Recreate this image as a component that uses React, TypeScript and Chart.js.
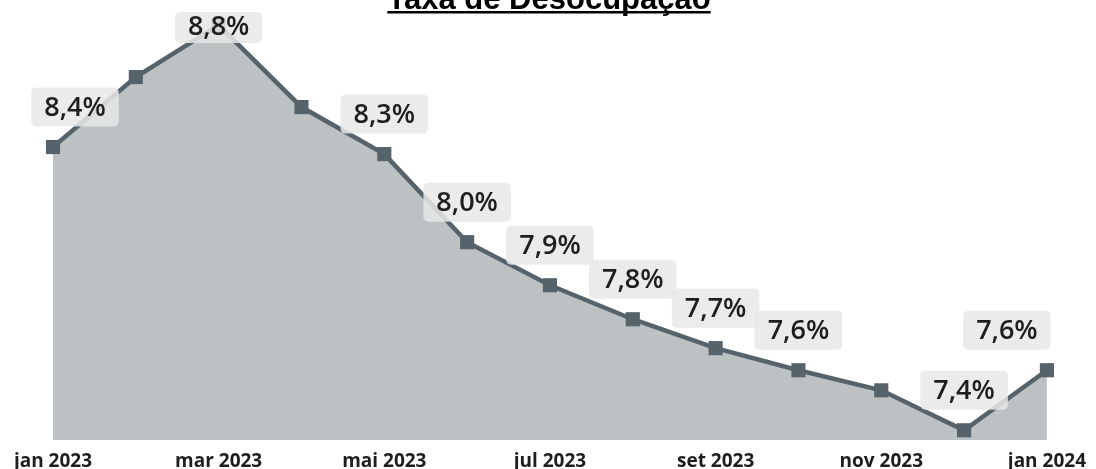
import React, { useEffect, useRef } from "react";
import { Chart, registerables } from "chart.js";

Chart.register(...registerables);

const months = [
  "jan 2023", "fev 2023", "mar 2023", "abr 2023", "mai 2023", "jun 2023", "jul 2023",
  "ago 2023", "set 2023", "out 2023", "nov 2023", "dez 2023", "jan 2024",
];
const rates = [8.4, 8.647, 8.83, 8.541, 8.375, 8.064, 7.912, 7.792, 7.69, 7.612, 7.541, 7.4, 7.612];
const pointLabels: (string | null)[] = [
  "8,4%", null, "8,8%", null, "8,3%", "8,0%", "7,9%", "7,8%", "7,7%", "7,6%", null, "7,4%", "7,6%",
];
const titleText = "Taxa de Desocupação";

const labelPlugin = {
  id: "valueLabels",
  afterDatasetsDraw(chart: any) {
    const ctx = chart.ctx;
    const meta = chart.getDatasetMeta(0);
    ctx.save();
    ctx.font = "600 27px 'Open Sans'";
    ctx.textAlign = "center";
    ctx.textBaseline = "middle";
    meta.data.forEach((pt: any, i: number) => {
      const txt = pointLabels[i];
      if (!txt) return;
      let shift = 0;
      if (i === 0) shift = 22;
      if (i === meta.data.length - 1) shift = -40;
      const cx = pt.x + shift;
      let h = 39;
      let top = pt.y - 40 - h / 2;
      let textY = pt.y - 39;
      if (top < 12) {
        top = 12;
        h = 31;
        textY = 27;
      }
      const w = ctx.measureText(txt).width + 26;
      ctx.fillStyle = "rgba(232,232,232,0.85)";
      ctx.beginPath();
      (ctx as any).roundRect(cx - w / 2, top, w, h, 5);
      ctx.fill();
      ctx.fillStyle = "#1e1e1e";
      ctx.fillText(txt, cx, textY);
    });
    ctx.restore();
  },
};

const titlePlugin = {
  id: "topTitle",
  afterDraw(chart: any) {
    const ctx = chart.ctx;
    ctx.save();
    ctx.font = "bold 31px 'Liberation Sans', Arial";
    ctx.textAlign = "center";
    ctx.textBaseline = "alphabetic";
    ctx.fillStyle = "#000";
    const cx = 549;
    ctx.fillText(titleText, cx, 9);
    const w = ctx.measureText(titleText).width;
    ctx.fillRect(cx - w / 2, 11, w, 2.5);
    ctx.restore();
  },
};

export default function App() {
  const ref = useRef<HTMLCanvasElement>(null);
  useEffect(() => {
    if (!ref.current) return;
    const chart = new Chart(ref.current, {
      type: "line",
      data: {
        labels: months,
        datasets: [
          {
            data: rates,
            borderColor: "#56636b",
            borderWidth: 4.5,
            backgroundColor: "#bcc1c4",
            fill: "start",
            pointStyle: "rect",
            pointRadius: 10,
            pointBackgroundColor: "#56636b",
            pointBorderColor: "#56636b",
            pointBorderWidth: 0,
            tension: 0,
            clip: false as any,
          },
        ],
      },
      options: {
        animation: false,
        responsive: true,
        maintainAspectRatio: false,
        layout: { autoPadding: false, padding: { left: 53, right: 46, top: 0, bottom: 0 } },
        plugins: { legend: { display: false }, tooltip: { enabled: false }, title: { display: false } },
        scales: {
          x: {
            offset: false,
            grid: { display: false, drawTicks: false },
            border: { display: false },
            ticks: {
              autoSkip: false,
              maxRotation: 0,
              padding: 10,
              color: "#1e1e1e",
              font: { family: "'Open Sans'", size: 19, weight: "bold" },
              callback: (_v: any, i: number) => (i % 2 === 0 ? months[i] : ""),
            },
          },
          y: { display: false, min: 7.365, max: 8.919 },
        },
      },
      plugins: [labelPlugin, titlePlugin],
    });
    return () => chart.destroy();
  }, []);
  return (
    <div style={{ position: "absolute", left: 0, top: 0, width: 1096, height: 469, overflow: "hidden", background: "#fff" }}>
      <div style={{ position: "relative", width: 1096, height: 483 }}>
        <canvas ref={ref} />
      </div>
    </div>
  );
}
